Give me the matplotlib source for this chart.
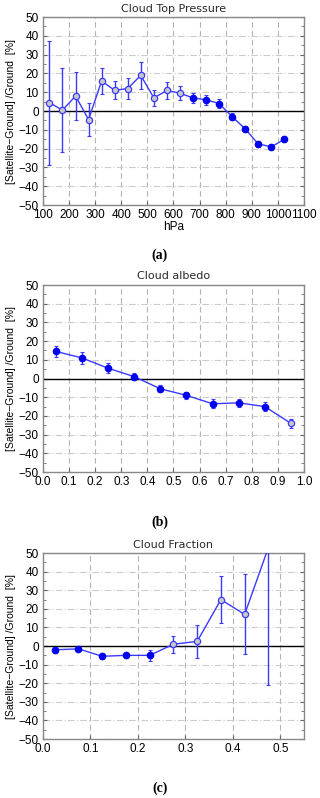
import numpy as np
import matplotlib
matplotlib.use("Agg")
import matplotlib.pyplot as plt
from matplotlib.ticker import MultipleLocator

plt.rcParams['font.family'] = ['Liberation Sans', 'DejaVu Sans']

# Panel (a): cloud top pressure
ctp_x = [125, 175, 225, 275, 325, 375, 425, 475, 525, 575,
         625, 675, 725, 775, 825, 875, 925, 975, 1025]
ctp_y = [4.5, 0.5, 8, -4.5, 16, 11, 12, 19, 7, 11,
         9.5, 7, 6, 4, -3, -9.5, -17.5, -19, -15]
ctp_err = [33, 22.5, 13, 9, 7, 4.8, 5.5, 7, 4.3, 4.5,
           3.6, 2.6, 2.5, 2.3, 2, 1.8, 1.5, 1, 1.5]
ctp_open = [True] * 11 + [False] * 8

# Panel (b): cloud albedo
alb_x = [0.05, 0.15, 0.25, 0.35, 0.45, 0.55, 0.65, 0.75, 0.85, 0.95]
alb_y = [14.5, 11, 5.5, 1, -5.5, -9, -13.5, -13, -15, -24]
alb_err = [2.8, 3, 2.6, 2, 1.8, 1.8, 2.3, 2, 2.5, 2.2]
alb_open = [False] * 9 + [True]

# Panel (c): cloud fraction
cf_x = [0.025, 0.075, 0.125, 0.175, 0.225, 0.275, 0.325, 0.375, 0.425, 0.475]
cf_y = [-2, -1.5, -5.5, -5, -5, 1, 2.5, 25, 17, 53]
cf_err = [1.5, 0.8, 1.5, 1.5, 3, 4.5, 9, 12.5, 21.5, 74]
cf_open = [False] * 5 + [True] * 5

line_c = "#3a3aff"
fill_c = "#0000f0"
open_c = "#c8c8c8"

fig = plt.figure(figsize=(3.2, 7.98), dpi=100)

panels = [
    ([0.134, 0.743, 0.816, 0.2356], "Cloud Top Pressure", ctp_x, ctp_y, ctp_err, ctp_open,
     (100, 1100), 100, "hPa", "(a)", 1 - 255 / 798),
    ([0.134, 0.4085, 0.816, 0.2343], "Cloud albedo", alb_x, alb_y, alb_err, alb_open,
     (0.0, 1.0), 0.1, None, "(b)", 1 - 522 / 798),
    ([0.134, 0.0739, 0.816, 0.233], "Cloud Fraction", cf_x, cf_y, cf_err, cf_open,
     (0.0, 0.55), 0.1, None, "(c)", 1 - 788 / 798),
]

for rect, title, x, y, err, is_open, xlim, xstep, xlabel, tag, tag_y in panels:
    ax = fig.add_axes(rect)
    x = np.array(x)
    y = np.array(y)
    err = np.array(err)
    is_open = np.array(is_open)

    ax.axhline(0, color="black", lw=1.0, zorder=2)
    ax.plot(x, y, color=line_c, lw=1.0, zorder=3, clip_on=True)
    ax.errorbar(x, y, yerr=err, fmt="none", ecolor=line_c, elinewidth=1.0,
                capsize=1.5, capthick=0.8, zorder=3)
    ax.plot(x[is_open], y[is_open], "o", ms=4.5, mfc=open_c, mec=line_c,
            mew=0.9, ls="none", zorder=4)
    ax.plot(x[~is_open], y[~is_open], "o", ms=4.5, mfc=fill_c, mec=fill_c,
            ls="none", zorder=4)

    ax.set_xlim(*xlim)
    ax.set_ylim(-50, 50)
    ax.xaxis.set_major_locator(MultipleLocator(xstep))
    ax.yaxis.set_major_locator(MultipleLocator(10))
    ax.yaxis.set_minor_locator(MultipleLocator(5))
    if xstep < 1:
        ax.set_xticklabels([f"{v:.1f}" for v in ax.get_xticks()])

    ax.grid(axis="x", which="major", color="#b4b4b4", ls=(0, (5, 3)), lw=0.8)
    ax.grid(axis="y", which="major", color="#cccccc", ls=(0, (6, 2, 1, 2)), lw=0.8)
    ax.tick_params(which="both", direction="in", right=True, labelsize=8.5,
                   color="#666666", pad=3)
    ax.tick_params(which="major", length=3)
    ax.tick_params(which="minor", length=2)
    for s in ax.spines.values():
        s.set_color("#888888")
        s.set_linewidth(1.0)

    ax.set_title(title, fontsize=8, color="#2a2a2a", pad=4,
                 family=["DejaVu Sans"])
    ax.set_ylabel("[Satellite\u2212Ground] /Ground  [%]", fontsize=7.5, labelpad=2)
    if xlabel:
        ax.set_xlabel(xlabel, fontsize=8.5, labelpad=0)

    fig.text(0.5, tag_y, tag, ha="center", va="center", fontsize=10,
             fontweight="bold", family=["Liberation Serif", "DejaVu Serif"])

fig.savefig("out.png", dpi=100)
